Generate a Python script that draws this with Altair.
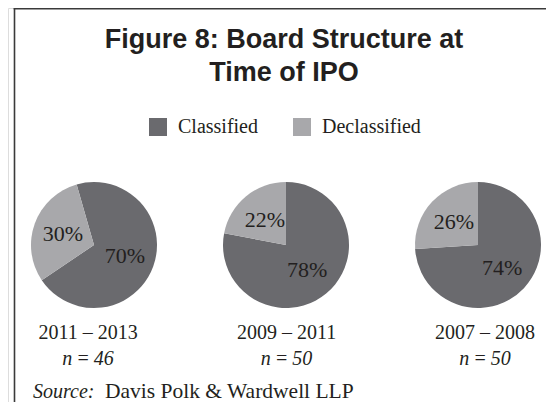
import math
import altair as alt
import pandas as pd

# ---- data ----
periods = ["2011 – 2013", "2009 – 2011", "2007 – 2008"]
n_values = [46, 50, 50]
categories = ["Classified", "Declassified"]
classified_pct = [70, 78, 74]
declassified_pct = [30, 22, 26]

# style: starting angle (degrees, clockwise from 12 o'clock) of each pie
start_deg = [-16, 0, 0]

title_lines = ["Figure 8: Board Structure at", "Time of IPO"]
source_label = "Source:"
source_text = "Davis Polk & Wardwell LLP"

DARK = "#6a6a6e"
LIGHT = "#a8a8ab"
INK = "#231f20"
SERIF = "Liberation Serif, Times New Roman, serif"
TITLE_FONT = "Liberation Sans, Arial, sans-serif"

# ---- build the table ----
rows = []
for i, p in enumerate(periods):
    vals = [classified_pct[i], declassified_pct[i]]
    total = sum(vals)
    cum = 0.0
    for c, v in zip(categories, vals):
        t0 = math.radians(start_deg[i]) + cum / total * 2 * math.pi
        cum += v
        t1 = math.radians(start_deg[i]) + cum / total * 2 * math.pi
        rows.append(dict(period=p, category=c, value=v, label=f"{v}%",
                         t0=t0, t1=t1, tm=(t0 + t1) / 2))
df = pd.DataFrame(rows)
lab = pd.DataFrame({"period": periods,
                    "n": [f"n\u2009=\u2009{v}" for v in n_values]})

W, H = 538, 394
PIE_Y = 237

xpie = alt.X("period:N", axis=None,
             scale=alt.Scale(type="point", domain=periods, range=[86, 470], padding=0))
xlab = alt.X("period:N", axis=None,
             scale=alt.Scale(type="point", domain=periods, range=[80, 477], padding=0))

color = alt.Color(
    "category:N",
    scale=alt.Scale(domain=categories, range=[DARK, LIGHT]),
    legend=alt.Legend(
        title=None, orient="none", direction="horizontal",
        legendX=140, legendY=109,
        symbolType="square", symbolSize=324, symbolStrokeWidth=0, symbolOpacity=1,
        labelFont=SERIF, labelFontSize=20, labelColor=INK, labelOffset=10,
        columnPadding=34,
    ),
)

arcs = alt.Chart(df).mark_arc(radius=63, stroke=None).encode(
    x=xpie, y=alt.value(PIE_Y),
    theta=alt.Theta("t0:Q", scale=None), theta2="t1:Q",
    color=color,
)

pct = alt.Chart(df).mark_text(
    radius=33, font=SERIF, fontSize=22, color=INK, baseline="middle", align="center"
).encode(
    x=xpie, y=alt.value(PIE_Y),
    theta=alt.Theta("tm:Q", scale=None),
    text="label:N",
)

period_txt = alt.Chart(lab).mark_text(
    font=SERIF, fontSize=20, color=INK, baseline="alphabetic", align="center"
).encode(x=xlab, y=alt.value(331), text="period:N")

n_txt = alt.Chart(lab).mark_text(
    font=SERIF, fontSize=20, fontStyle="italic", color=INK, baseline="alphabetic", align="center"
).encode(x=xlab, y=alt.value(357), text="n:N")

title1 = alt.Chart(pd.DataFrame({"t": [title_lines[0]]})).mark_text(
    font=TITLE_FONT, fontSize=27, fontWeight="bold", color=INK, align="center", baseline="alphabetic"
).encode(x=alt.value(276), y=alt.value(40), text="t:N")
title2 = alt.Chart(pd.DataFrame({"t": [title_lines[1]]})).mark_text(
    font=TITLE_FONT, fontSize=27, fontWeight="bold", color=INK, align="center", baseline="alphabetic"
).encode(x=alt.value(276), y=alt.value(73), text="t:N")

src1 = alt.Chart(pd.DataFrame({"t": [source_label]})).mark_text(
    font=SERIF, fontSize=20, fontStyle="italic", color=INK, align="left", baseline="alphabetic"
).encode(x=alt.value(25), y=alt.value(390), text="t:N")
src2 = alt.Chart(pd.DataFrame({"t": [source_text]})).mark_text(
    font=SERIF, fontSize=21.5, color=INK, align="left", baseline="alphabetic"
).encode(x=alt.value(97), y=alt.value(390), text="t:N")

frame_left = alt.Chart(pd.DataFrame({"a": [0]})).mark_rule(color="#3a3a3a", strokeWidth=1.6).encode(
    x=alt.value(6.5), y=alt.value(0), y2=alt.value(H))
frame_top = alt.Chart(pd.DataFrame({"a": [0]})).mark_rule(color="#3a3a3a", strokeWidth=2).encode(
    x=alt.value(5.7), x2=alt.value(W), y=alt.value(0.5))

chart = alt.layer(
    frame_left, frame_top, title1, title2, arcs, pct, period_txt, n_txt, src1, src2
).resolve_scale(x="independent").properties(
    width=W, height=H, autosize=alt.AutoSizeParams(type="none"), padding=0
).configure_view(stroke=None).configure(background="white")

chart.save("out.html", embed_options={"renderer": "svg", "actions": False})
